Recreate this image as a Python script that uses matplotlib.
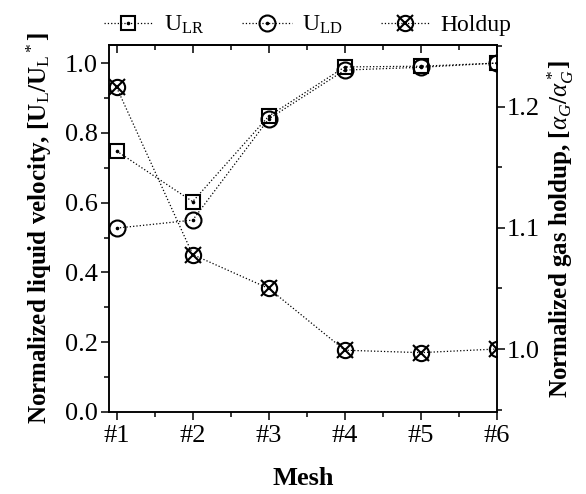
import matplotlib
matplotlib.use("Agg")
import matplotlib.pyplot as plt
from matplotlib.legend_handler import HandlerTuple
from matplotlib.ticker import MultipleLocator

plt.rcParams["font.family"] = ["Liberation Serif", "DejaVu Serif"]
plt.rcParams["mathtext.fontset"] = "custom"
plt.rcParams["mathtext.rm"] = "Liberation Serif"
plt.rcParams["mathtext.it"] = "Liberation Serif:italic"
plt.rcParams["mathtext.bf"] = "Liberation Serif:bold"

mesh = [1, 2, 3, 4, 5, 6]
mesh_labels = ["#1", "#2", "#3", "#4", "#5", "#6"]
u_lr = [0.748, 0.603, 0.848, 0.989, 0.991, 1.0]
u_ld = [0.527, 0.550, 0.840, 0.980, 0.988, 1.0]
holdup = [1.216, 1.078, 1.050, 0.999, 0.997, 1.0]

fig = plt.figure(figsize=(5.86, 4.94), dpi=100)
ax = fig.add_axes((0.186, 0.166, 0.662, 0.743))
ax2 = ax.twinx()

line_kw = dict(color="black", linestyle=":", linewidth=0.9)

sq_line, = ax.plot(mesh, u_lr, marker="s", markersize=10, markerfacecolor="none",
                   markeredgecolor="black", markeredgewidth=1.5, **line_kw)
sq_dot, = ax.plot(mesh, u_lr, marker="o", markersize=1.6, linestyle="none", color="black")
ci_line, = ax.plot(mesh, u_ld, marker="o", markersize=11.5, markerfacecolor="none",
                   markeredgecolor="black", markeredgewidth=1.5, **line_kw)
ci_dot, = ax.plot(mesh, u_ld, marker="o", markersize=1.6, linestyle="none", color="black")
hx_line, = ax2.plot(mesh, holdup, marker="o", markersize=11, markerfacecolor="none",
                    markeredgecolor="black", markeredgewidth=1.5, **line_kw)
hx_x, = ax2.plot(mesh, holdup, marker="x", markersize=12, markeredgewidth=1.5,
                 linestyle="none", color="black")

ax.set_xlim(0.9, 6.0)
ax.set_ylim(0.0, 1.052)
ax2.set_ylim(0.948, 1.251)

ax.set_xticks(mesh)
ax.set_xticklabels(mesh_labels)
ax.xaxis.set_minor_locator(MultipleLocator(0.5))
ax.yaxis.set_major_locator(MultipleLocator(0.2))
ax.yaxis.set_minor_locator(MultipleLocator(0.1))
ax2.yaxis.set_major_locator(MultipleLocator(0.1))
ax2.yaxis.set_minor_locator(MultipleLocator(0.05))

ax.tick_params(axis="both", which="major", labelsize=19, length=6, width=1.1, direction="out")
ax.tick_params(axis="both", which="minor", length=3.5, width=1.1, direction="out")
ax.tick_params(axis="y", which="major", pad=2)
ax2.tick_params(axis="y", which="major", labelsize=19, length=6, width=1.1, direction="out", pad=1)
ax2.tick_params(axis="y", which="minor", length=3.5, width=1.1, direction="out")

# inward ticks along the top spine
top = ax.secondary_xaxis("top")
top.set_xticks(mesh)
top.xaxis.set_minor_locator(MultipleLocator(0.5))
top.tick_params(axis="x", which="major", direction="in", length=6, width=1.1, labeltop=False)
top.tick_params(axis="x", which="minor", direction="in", length=3.5, width=1.1)
top.spines["top"].set_linewidth(1.1)

for a in (ax, ax2):
    for s in a.spines.values():
        s.set_linewidth(1.1)

ax.set_xlabel("Mesh", fontsize=19, fontweight="bold", labelpad=14)
ax.set_ylabel(r"Normalized liquid velocity, [U$_\mathrm{L}$/U$_\mathrm{L}$$^*$]",
              fontsize=18, fontweight="bold", labelpad=8)
ax2.set_ylabel(r"Normalized gas holdup, [$\alpha_G$/$\alpha_G^*$]",
               fontsize=18, fontweight="bold", labelpad=4)

fig.legend([(sq_line, sq_dot), (ci_line, ci_dot), (hx_line, hx_x)],
           [r"U$_\mathrm{LR}$", r"U$_\mathrm{LD}$", "Holdup"],
           handler_map={tuple: HandlerTuple(ndivide=1)},
           loc="upper center", bbox_to_anchor=(0.525, 1.015), ncol=3, frameon=False,
           fontsize=17, handlelength=2.1, columnspacing=1.6, handletextpad=0.45)

fig.savefig("out.png", dpi=100)
